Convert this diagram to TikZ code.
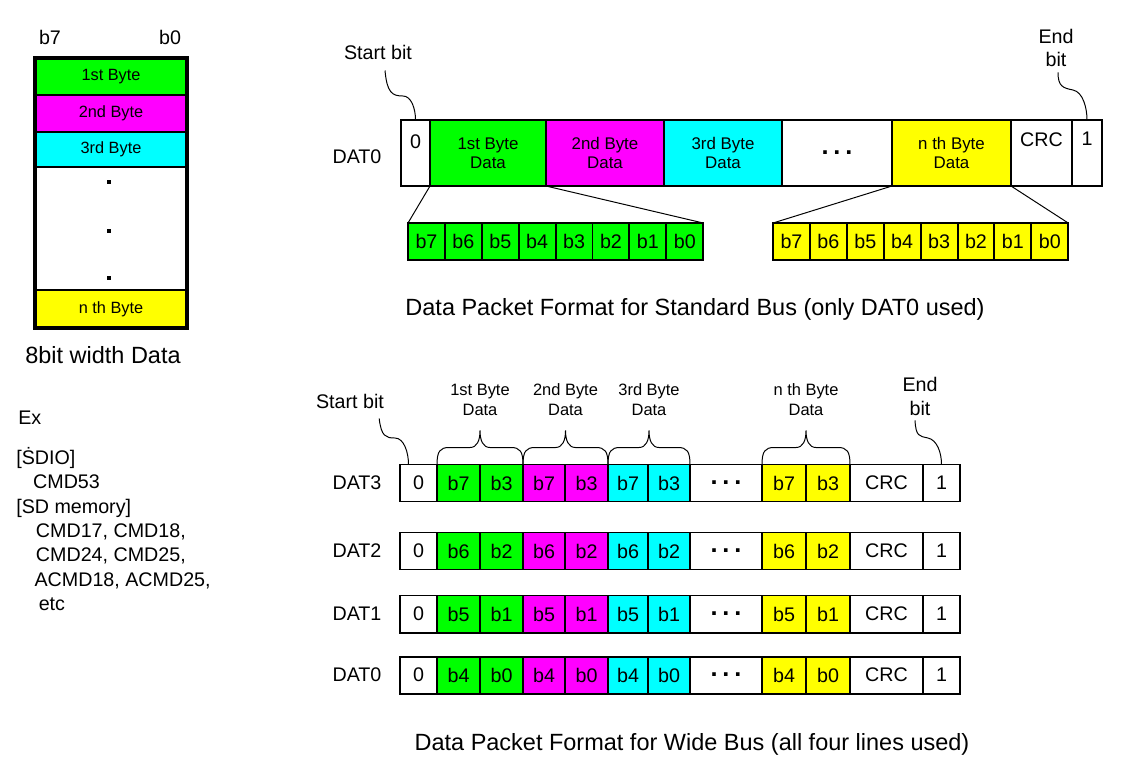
\documentclass[tikz,border=0pt]{standalone}
\usepackage{fontspec}
\setmainfont{Liberation Sans}
\usetikzlibrary{calc}
\usetikzlibrary{positioning}
\definecolor{byteGreen}{RGB}{0,255,0}
\definecolor{byteMag}{RGB}{255,0,255}
\definecolor{byteCyan}{RGB}{0,255,255}
\definecolor{byteYel}{RGB}{255,255,0}
\tikzstyle{cellbox} = [draw, line width=1.4pt, inner sep=0pt, outer sep=0pt, align=center, font=\fontsize{14}{16}\selectfont]
\tikzstyle{bytebox} = [cellbox, font=\fontsize{12}{13.5}\selectfont]
\tikzstyle{plaintext} = [inner sep=0pt, align=center, font=\fontsize{14}{17}\selectfont]
\tikzstyle{captext} = [inner sep=0pt, font=\fontsize{16.7}{20}\selectfont]
\tikzstyle{bracetext} = [inner sep=0pt, align=center, anchor=south, font=\fontsize{11.7}{14}\selectfont]
\tikzstyle{wiggle} = [line width=0.7pt]
\tikzstyle{fanline} = [line width=0.7pt]
\tikzstyle{bracepen} = [line width=0.7pt]
\tikzstyle{dotsq} = [fill, inner sep=0pt, minimum size=0.1cm]
\tikzstyle{colorGreen} = [fill=byteGreen]
\tikzstyle{colorMag} = [fill=byteMag]
\tikzstyle{colorCyan} = [fill=byteCyan]
\tikzstyle{colorYel} = [fill=byteYel]
\tikzset{cw/.style={minimum width=#1*0.025cm}, ch/.style={minimum height=#1*0.025cm}}
\newcommand{\celldots}{{\fontsize{18}{18}\selectfont\bfseries .\hspace{0.12cm}.\hspace{0.12cm}.}}

\begin{document}
\begin{tikzpicture}[x=0.025cm, y=-0.025cm]
    \useasboundingbox (0,0) rectangle (1128,771);

    % 8bit width data
    \node[plaintext] (lb_b7) at (50,37) {b7};
    \node[plaintext] (lb_b0) at (170,37) {b0};
    \node[bytebox, colorGreen, cw=152, ch=37, font=\fontsize{11.6}{13}\selectfont] (lb_byte1) at (111,76.5) {1st Byte};
    \node[bytebox, colorMag, cw=152, ch=37, font=\fontsize{11.6}{13}\selectfont, below=0pt of lb_byte1] (lb_byte2) {2nd Byte};
    \node[bytebox, colorCyan, cw=152, ch=35, font=\fontsize{11.6}{13}\selectfont, below=0pt of lb_byte2] (lb_byte3) {3rd Byte};
    \node[bytebox, cw=152, ch=123, below=0pt of lb_byte3] (lb_gap) {};
    \node[bytebox, colorYel, cw=152, ch=38, font=\fontsize{11.6}{13}\selectfont, below=0pt of lb_gap] (lb_byten) {n th Byte};
    \draw[line width=2.2pt] (lb_byte1.north west) rectangle (lb_byten.south east);
    \node[dotsq] (lb_dot1) at (109,182) {};
    \node[dotsq] (lb_dot2) at (109,231) {};
    \node[dotsq] (lb_dot3) at (109,278) {};
    \node[captext] (lb_caption) at (103,355) {8bit width Data};

    % examples
    \node[plaintext, anchor=west] (ex_lbl) at (18,418) {Ex};
    \node[plaintext, anchor=north west, align=left, font=\fontsize{14}{17.3}\selectfont] (ex_list) at (16,447) {[\.{S}DIO]\\\hspace*{12pt}CMD53\\{[}SD memory{]}\\\hspace*{14pt}CMD17, CMD18,\\\hspace*{14pt}CMD24, CMD25,\\\hspace*{13pt}ACMD18, ACMD25,\\\hspace*{16pt}etc};

    % standard bus
    \node[plaintext] (top_dat_lbl) at (357,157) {DAT0};
    \node[cellbox, cw=29, ch=66, label={[anchor=north, inner sep=0pt, yshift=-0.36cm, font=\fontsize{14}{16}\selectfont]north:0}] (top_zero) at (415.5,153) {};
    \node[bytebox, colorGreen, cw=116, ch=66, right=0pt of top_zero] (top_byte1) {1st Byte\\Data};
    \node[bytebox, colorMag, cw=118, ch=66, right=0pt of top_byte1] (top_byte2) {2nd Byte\\Data};
    \node[bytebox, colorCyan, cw=118, ch=66, right=0pt of top_byte2] (top_byte3) {3rd Byte\\Data};
    \node[cellbox, cw=110, ch=66, right=0pt of top_byte3] (top_dots) {\celldots};
    \node[bytebox, colorYel, cw=119, ch=66, right=0pt of top_dots] (top_byten) {n th Byte\\Data};
    \node[cellbox, cw=61, ch=66, right=0pt of top_byten, label={[anchor=north, inner sep=0pt, yshift=-0.3cm, font=\fontsize{14}{16}\selectfont]north:CRC}] (top_crc) {};
    \node[cellbox, cw=30, ch=66, right=0pt of top_crc, label={[anchor=north, inner sep=0pt, yshift=-0.3cm, font=\fontsize{14}{16}\selectfont]north:1}] (top_one) {};

    \node[plaintext] (lbl_start_top) at (378,52) {Start bit};
    \node[plaintext] (lbl_end_top) at (1056,48) {End\\bit};
    \draw[wiggle] ($(lbl_start_top.south)+(7,11)$) .. controls +(2,22) and +(-11,0) .. (403,96)
        .. controls +(8,0) and +(0,-12) .. (top_zero.north);
    \draw[wiggle] ($(lbl_end_top.south)+(2,5)$) .. controls +(0,14) and +(-10,-2) .. (1073,90)
        .. controls +(10,2) and +(0,-12) .. (top_one.north);

    % expanded bytes
    \foreach \b [count=\i] in {7,...,0} {
        \node[cellbox, colorGreen, cw=36.9, ch=37] (gbit\b) at ({408+36.9*(\i-0.5)},241.5) {b\b};
        \node[cellbox, colorYel, cw=36.9, ch=37] (ybit\b) at ({773+36.9*(\i-0.5)},241.5) {b\b};
    }
    \draw[fanline] (top_byte1.south west) -- (gbit7.north west);
    \draw[fanline] (top_byte1.south east) -- (gbit0.north east);
    \draw[fanline] (top_byten.south west) -- (ybit7.north west);
    \draw[fanline] (top_byten.south east) -- (ybit0.north east);

    \node[captext] (top_caption) at (695,309) {Data Packet Format for Standard Bus (only DAT0 used)};

    % wide bus
    \foreach \n/\yy/\hb/\lb in {3/483/b7/b3, 2/551/b6/b2, 1/614/b5/b1, 0/675/b4/b0} {
        \node[plaintext] (dat\n_lbl) at (357,\yy) {DAT\n};
        \node[cellbox, cw=37, ch=37] (w\n_zero) at (418.5,\yy) {0};
        \node[cellbox, colorGreen, cw=43, ch=37, right=0pt of w\n_zero] (w\n_g1) {\hb};
        \node[cellbox, colorGreen, cw=43, ch=37, right=0pt of w\n_g1] (w\n_g2) {\lb};
        \node[cellbox, colorMag, cw=42, ch=37, right=0pt of w\n_g2] (w\n_m1) {\hb};
        \node[cellbox, colorMag, cw=43, ch=37, right=0pt of w\n_m1] (w\n_m2) {\lb};
        \node[cellbox, colorCyan, cw=40, ch=37, right=0pt of w\n_m2] (w\n_c1) {\hb};
        \node[cellbox, colorCyan, cw=42, ch=37, right=0pt of w\n_c1] (w\n_c2) {\lb};
        \node[cellbox, cw=72, ch=37, right=0pt of w\n_c2] (w\n_dots) {\celldots};
        \node[cellbox, colorYel, cw=44, ch=37, right=0pt of w\n_dots] (w\n_y1) {\hb};
        \node[cellbox, colorYel, cw=44, ch=37, right=0pt of w\n_y1] (w\n_y2) {\lb};
        \node[cellbox, cw=73, ch=37, right=0pt of w\n_y2] (w\n_crc) {CRC};
        \node[cellbox, cw=37, ch=37, right=0pt of w\n_crc] (w\n_one) {1};
    }

    % braces over DAT3
    \foreach \l/\r/\ord in {w3_g1/w3_g2/1st, w3_m1/w3_m2/2nd, w3_c1/w3_c2/3rd, w3_y1/w3_y2/n th} {
        \coordinate (bl) at (\l.north west);
        \coordinate (br) at (\r.north east);
        \coordinate (bm) at ($(bl)!0.5!(br)$);
        \draw[bracepen] (bl) .. controls +(0,-13) and +(-9,0) .. ($(bl)+(12,-17)$) -- ($(bm)+(-10,-17)$)
            .. controls +(7,0) and +(0,10) .. ($(bm)+(0,-34)$)
            .. controls +(0,10) and +(-7,0) .. ($(bm)+(10,-17)$) -- ($(br)+(-12,-17)$)
            .. controls +(9,0) and +(0,-13) .. (br);
        \node[bracetext] (brace_\l_lbl) at ($(bm)+(0,-49)$) {\ord{} Byte\\Data};
    }

    \node[plaintext] (lbl_start_wide) at (350,401) {Start bit};
    \node[plaintext] (lbl_end_wide) at (920,396) {End\\bit};
    \draw[wiggle] ($(lbl_start_wide.south east)+(-5,10)$) .. controls +(2,18) and +(-9,0) .. (395,438)
        .. controls +(9,0) and +(0,-12) .. ($(w3_zero.north)+(-10,0)$);
    \draw[wiggle] ($(lbl_end_wide.south)+(-5,5)$) .. controls +(1,16) and +(-9,-2) .. (928,438)
        .. controls +(9,2) and +(0,-12) .. (w3_one.north);

    \node[captext] (wide_caption) at (692,744) {Data Packet Format for Wide Bus (all four lines used)};
\end{tikzpicture}
\end{document}
